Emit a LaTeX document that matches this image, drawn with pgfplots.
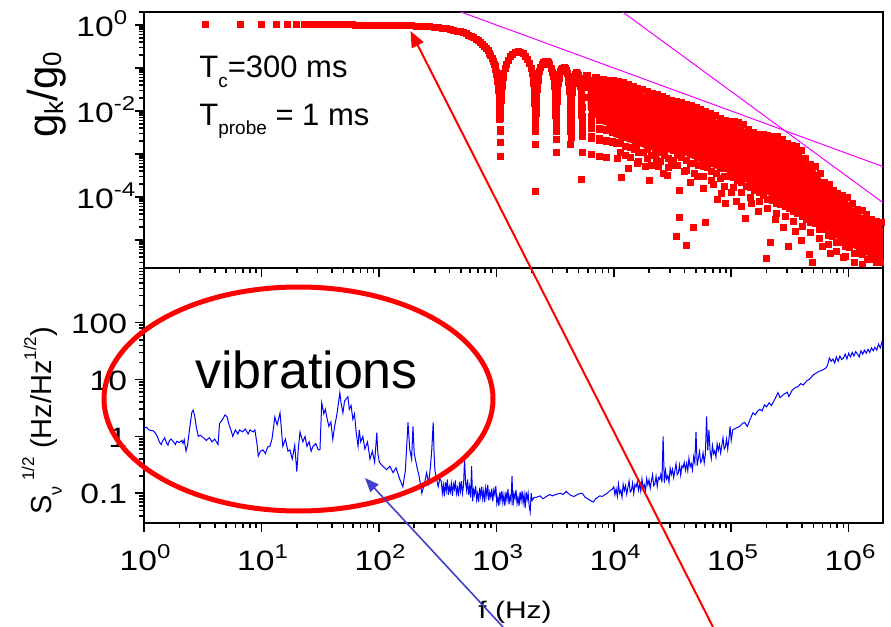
\documentclass[border=0pt]{standalone}
\usepackage{fontspec}
\setmainfont{Liberation Sans}
\usepackage{pgfplots}
\pgfplotsset{compat=1.18}
\usetikzlibrary{arrows.meta}
\definecolor{mag}{RGB}{240,0,255}
\definecolor{arrblue}{RGB}{64,64,200}
\newcommand{\tenp}[1]{\scalebox{1.2}[1]{10\raisebox{6pt}{\fontsize{10}{11}\selectfont #1}}}
\newcommand{\tk}[1]{\scalebox{1.2}[1]{#1}}
\begin{document}
\begin{tikzpicture}
\useasboundingbox (0,0) rectangle (445.5pt,-313.5pt);
% ---------------- top panel ----------------
\begin{axis}[scale only axis, width=369.5pt, height=128pt,
  at={(72pt,-6pt)}, anchor=north west,
  xmode=log, ymode=log, xmin=1, xmax=1.96e6, ymin=2.24e-6, ymax=2,
  axis line style={line width=1pt},
  tick style={black, line width=0.8pt},
  tick align=outside, tick pos=left,
  major tick length=4.5pt, minor tick length=2.5pt,
  xtick={1,10,100,1000,1e4,1e5,1e6},
  minor xtick={2,3,4,5,6,7,8,9,20,30,40,50,60,70,80,90,200,300,400,500,600,700,800,900,2000,3000,4000,5000,6000,7000,8000,9000,2e4,3e4,4e4,5e4,6e4,7e4,8e4,9e4,2e5,3e5,4e5,5e5,6e5,7e5,8e5,9e5},
  ytick={1e-5,1e-4,1e-3,1e-2,0.1,1},
  minor ytick={3e-6,4e-6,5e-6,6e-6,7e-6,8e-6,9e-6,2e-5,3e-5,4e-5,5e-5,6e-5,7e-5,8e-5,9e-5,2e-4,3e-4,4e-4,5e-4,6e-4,7e-4,8e-4,9e-4,2e-3,3e-3,4e-3,5e-3,6e-3,7e-3,8e-3,9e-3,0.02,0.03,0.04,0.05,0.06,0.07,0.08,0.09,0.2,0.3,0.4,0.5,0.6,0.7,0.8,0.9,2},
  xticklabels={}, yticklabels={}]
% dense core of the high-frequency cloud
\addplot[fill=red, draw=none] coordinates {
(6000,0.045)(7000,0.042)(8500,0.040)(10000,0.044)(12100,0.039)(14600,0.032)(17600,0.026)(21300,0.022)(25800,0.019)(31200,0.0153)(37700,0.0132)(45600,0.0112)(55200,0.0094)(66800,0.0075)(80800,0.0056)(89000,0.0051)(106000,0.0048)(127000,0.0041)(140000,0.0032)(154000,0.0027)(187000,0.0024)(226000,0.0022)(249000,0.0021)(274000,0.0019)(301000,0.0015)(360000,0.0013)(400000,0.001)(430000,0.00068)(470000,0.00049)(520000,0.00042)(570000,0.0003)(620000,0.00019)(680000,0.00017)(740000,0.00012)(890000,0.000093)(980000,0.00008)(1080000,0.00006)(1180000,0.000044)(1430000,0.000034)(1570000,0.000026)(1900000,0.000021)(2000000,0.000019)
(2000000,3e-6)(1400000,4.5e-6)(830000,1e-5)(440000,3.5e-5)(250000,8e-5)(160000,1.7e-4)(97000,3.5e-4)(62000,5.5e-4)(38000,0.001)(21000,0.0012)(10000,0.0025)(8500,0.005)(7000,0.007)(6000,0.011)};
% g_k/g_0 points
\addplot[only marks, mark=square*, mark size=1.5pt, red, mark options={draw=red, line width=0pt}] coordinates {
(3.333,1)(6.667,1)(10,1)(13.33,1)(16.67,1)(20,1)(23.33,1)(26.67,1)(30,1)(33.33,1)(36.67,1)(40,1)(43.33,1)(46.67,1)(50,1)(53.33,1)(56.67,1)(60,1)(63.33,0.99)(66.67,0.99)(70,0.99)(73.33,0.99)(76.67,0.99)(80,0.99)(83.33,0.99)(86.67,0.99)(90,0.99)(93.33,0.99)(96.67,0.99)(100,0.986)
(110,0.983)(120,0.980)(132,0.9755)(145,0.9706)(158,0.9652)(174,0.958)(190,0.9503)(208,0.940)(228,0.9284)(250,0.9142)(272,0.899)(296,0.881)(322,0.860)(348,0.838)(376,0.812)(405,0.784)(435,0.754)(465,0.722)(495,0.6886)(525,0.6541)(555,0.6188)(585,0.5826)(615,0.5457)(645,0.5084)(675,0.4705)(705,0.4325)(735,0.3943)(765,0.3565)(795,0.3187)(825,0.2815)(850,0.251)(875,0.2203)(900,0.191)(920,0.1677)(940,0.145)(960,0.1225)(975,0.1059)(990,0.0899)(1000,0.0793)(1010,0.0687)(1020,0.0583)(1030,0.0484)(1040,0.0384)(1048,0.0305)(1055,0.0237)(1061,0.0179)(1066,0.0131)(1070,0.00935)(1073,0.0065)(1076,0.0037)(1078,0.00185)
(1080.9,0.000879)(1083.2,0.00329)(1086.5,0.00656)(1089.7,0.00981)(1093,0.01304)(1097.3,0.01731)(1102.7,0.02261)(1109.2,0.02888)(1117.8,0.03711)(1128.6,0.04721)(1142.6,0.05993)(1161,0.07602)(1188,0.09836)(1220.4,0.1230)(1263.6,0.1523)(1317.6,0.1829)(1382.4,0.2108)(1458,0.2311)(1533.6,0.2388)(1620,0.2334)(1706.4,0.2146)(1782,0.1891)(1857.6,0.1568)(1922.4,0.1254)(1976.4,0.09739)(2019.6,0.07435)(2052,0.05694)(2079,0.04245)(2097.4,0.03265)(2111.4,0.02523)(2122.2,0.01955)(2130.8,0.01503)(2137.3,0.01166)(2142.7,0.008866)(2147,0.006638)(2150.3,0.004972)(2153.5,0.00331)(2156.8,0.001652)
(2160.3,0.000137)(2163.2,0.001648)(2166.5,0.00329)(2169.7,0.004927)(2173,0.006559)(2177.3,0.008726)(2182.7,0.01142)(2189.2,0.01463)(2197.8,0.01887)(2208.6,0.02412)(2222.6,0.03081)(2241,0.03938)(2268,0.05152)(2300.4,0.06528)(2343.6,0.08213)(2397.6,0.1005)(2462.4,0.1183)(2538,0.1328)(2613.6,0.1401)(2700,0.1401)(2786.4,0.1315)(2862,0.1177)(2937.6,0.09918)(3002.4,0.08028)(3056.4,0.06298)(3099.6,0.04845)(3132,0.03731)(3159,0.02794)(3177.4,0.02155)(3191.4,0.01670)(3202.2,0.01295)(3210.8,0.00998)(3217.3,0.00775)(3222.7,0.005895)(3227,0.004417)(3230.3,0.00331)(3233.5,0.002204)(3236.8,0.001101)
(3246.5,0.002196)(3249.7,0.00329)(3253,0.004381)(3257.3,0.005833)(3262.7,0.007641)(3269.2,0.0098)(3277.8,0.01266)(3288.6,0.0162)(3302.6,0.02074)(3321,0.02658)(3348,0.0349)(3380.4,0.04442)(3423.6,0.05622)(3477.6,0.06931)(3542.4,0.08225)(3618,0.09313)(3693.6,0.09917)(3780,0.1000)(3866.4,0.09473)(3942,0.08547)(4017.6,0.07252)(4082.4,0.05904)(4136.4,0.04653)(4179.6,0.03593)(4212,0.02774)(4239,0.02082)(4257.4,0.01609)(4271.4,0.01247)(4282.2,0.00969)(4290.8,0.007466)(4297.3,0.005802)(4302.7,0.004415)(4307,0.003309)(4313.5,0.001653)
(4329.7,0.002469)(4333,0.003289)(4337.3,0.00438)(4342.7,0.005741)(4349.2,0.007366)(4357.8,0.00952)(4368.6,0.0122)(4382.6,0.01563)(4401,0.02005)(4428,0.02639)(4460.4,0.03367)(4503.6,0.04274)(4557.6,0.05289)(4622.4,0.06303)(4698,0.07172)(4773.6,0.07673)(4860,0.07781)(4946.4,0.07405)(5022,0.06709)(5097.6,0.05716)(5162.4,0.04669)(5216.4,0.0369)(5259.6,0.02855)(5292,0.02208)(5319,0.01659)(5337.4,0.01283)(5351.4,0.009957)(5362.2,0.007736)(5370.8,0.005965)(5377.3,0.004636)(5382.7,0.003529)
(5405,0.00107)(5413,0.00256)(5423,0.00448)(5438,0.00746)(5463,0.0123)(5508,0.0210)(5584,0.0346)(5702,0.0524)(5854,0.0659)(6026,0.0659)(6178,0.0524)(6296,0.0346)(6372,0.0210)(6417,0.0123)(6442,0.00746)(6457,0.00448)(6467,0.00256)
(6485,0.00096)(6493,0.0023)(6503,0.00402)(6518,0.00669)(6543,0.01105)(6588,0.01885)(6664,0.03105)(6782,0.0470)(6934,0.0591)(7106,0.0591)(7258,0.0470)(7376,0.03105)(7452,0.01885)(7497,0.01105)(7522,0.00669)(7537,0.00402)(7547,0.0023)
(7565,0.00088)(7573,0.00211)(7583,0.00369)(7598,0.00614)(7623,0.01014)(7668,0.0173)(7744,0.0285)(7862,0.0431)(8014,0.0542)(8186,0.0542)(8338,0.0431)(8456,0.0285)(8532,0.0173)(8577,0.01014)(8602,0.00614)(8617,0.00369)(8627,0.00211)
(8645,0.00082)(8653,0.00196)(8663,0.00343)(8678,0.0057)(8703,0.00942)(8748,0.0161)(8824,0.0265)(8942,0.0401)(9094,0.0504)(9266,0.0504)(9418,0.0401)(9536,0.0265)(9612,0.0161)(9657,0.00942)(9682,0.0057)(9697,0.00343)(9707,0.00196)
(9733,0.00185)(9743,0.00323)(9758,0.00538)(9783,0.00887)(9828,0.01514)(9904,0.02494)(10022,0.0378)(10174,0.0475)(10346,0.0475)(10498,0.0378)(10616,0.02494)(10692,0.01514)(10737,0.00887)(10762,0.00538)(10777,0.00323)(10787,0.00185)
(10000,0.052)(11000,0.049)(12100,0.046)(13300,0.042)(14600,0.038)(16000,0.034)(17600,0.031)(19400,0.028)(21300,0.026)(23400,0.024)(25800,0.022)(28300,0.020)(31200,0.018)(34300,0.0168)(37700,0.0155)(41500,0.0143)(45600,0.0132)(50200,0.0122)(55200,0.0110)(60700,0.0098)(66800,0.0088)(73500,0.0078)(80800,0.0066)(85000,0.0058)(89000,0.0060)(97000,0.0058)(106000,0.0056)(116000,0.0053)(127000,0.0048)(140000,0.0038)(154000,0.0032)(170000,0.0029)(187000,0.0028)(205000,0.0027)(226000,0.0026)(249000,0.0025)(274000,0.0022)(301000,0.0018)(330000,0.0016)(360000,0.0015)(400000,0.0012)(430000,0.0008)(470000,0.00058)(520000,0.00050)(570000,0.00035)(620000,0.00022)(680000,0.00020)(740000,0.00014)(810000,0.00012)(890000,0.00011)(980000,0.000095)(1080000,0.00007)(1180000,0.000052)(1300000,0.000048)(1430000,0.000040)(1570000,0.000030)(1730000,0.000027)(1900000,0.000025)(2000000,0.000022)
(10500,0.0030)(11500,0.0018)(12600,0.0025)(13800,0.0014)(15000,0.0022)(16300,0.0011)(17800,0.0019)(19500,0.0013)(21000,0.0009)(22800,0.0016)(24800,0.0011)(27000,0.0015)(29400,0.0008)(32000,0.0012)(34800,0.0009)(37900,0.0014)(41200,0.0007)(44900,0.0010)(48800,0.0006)(53100,0.0009)(57800,0.0005)(62900,0.0008)(68400,0.0004)(74400,0.0006)(81000,0.00045)(88100,0.0003)(95900,0.0005)(104000,0.00028)(113000,0.00040)(123000,0.00022)(134000,0.00030)(146000,0.00017)(159000,0.00024)(173000,0.00013)(188000,0.00018)(205000,0.00009)(223000,0.00014)(243000,0.00007)(264000,0.00011)(287000,0.00006)(313000,0.00009)(340000,0.000045)(370000,0.00007)(403000,0.000035)(438000,0.00005)(477000,0.000025)(519000,0.00004)(565000,0.000018)(615000,0.00003)(669000,0.000013)(728000,0.00002)(793000,0.000009)(863000,0.000015)(939000,0.000007)(1020000,0.000011)(1110000,0.000005)(1210000,0.000008)(1320000,0.0000045)(1440000,0.000006)(1570000,0.0000035)(1710000,0.000005)(1860000,0.000003)(1980000,0.0000045)
(10500,0.0018)(11500,0.0011)(12600,0.0015)(13800,0.00084)(15000,0.0013)(16300,0.00066)(17800,0.0011)(19500,0.00078)(21000,0.00054)(22800,0.00096)(24800,0.00066)(27000,0.0009)(29400,0.00048)(32000,0.00072)(34800,0.00054)(37900,0.00084)(41200,0.00042)(44900,0.0006)(48800,0.00036)(53100,0.00054)(57800,0.0003)(62900,0.00048)(68400,0.00024)(74400,0.00036)(81000,0.00027)(88100,0.00018)(95900,0.0003)(104000,0.00017)(113000,0.00024)(123000,0.00013)(134000,0.00018)(146000,0.0001)(159000,0.00014)(173000,0.000078)(188000,0.00011)(205000,0.000054)(223000,0.000084)(243000,0.000042)(264000,0.000066)(287000,0.000036)(313000,0.000054)(340000,0.000027)(370000,0.000042)(403000,0.000021)(438000,0.00003)(477000,0.000015)(519000,0.000024)(565000,0.000011)(615000,0.000018)(669000,0.0000078)(728000,0.000012)(793000,0.0000054)(863000,0.000009)(939000,0.0000042)(1020000,0.0000066)(1110000,0.000003)(1210000,0.0000048)(1320000,0.0000027)(1440000,0.0000036)(1570000,0.0000021)(1710000,0.000003)(1860000,0.0000018)(1980000,0.0000027)
(5345,2.6e-4)(10800,7.7e-4)(11700,2.8e-4)(13300,4.5e-4)(16000,6e-4)(20200,2.4e-4)(24000,5e-4)(28800,3.2e-4)(34400,1.2e-5)(36500,1.45e-4)(36500,3.4e-5)(41900,7.6e-6)(48000,2e-5)(60400,2.6e-5)(83000,1.2e-4)(90000,6.9e-5)(123000,5.9e-5)(131000,3.2e-5)(215000,8.9e-6)(198000,3.8e-6)(305000,6.9e-6)(460000,4.5e-6)(495000,3e-6)
(12500,9e-4)(15500,1.4e-3)(18500,5e-4)(23000,7e-4)(26500,3.5e-4)(31000,5.5e-4)(40000,4e-4)(45000,2.2e-4)(52000,3e-4)(58000,1.6e-4)(70000,2e-4)(77000,9e-5)(100000,1.3e-4)(110000,8e-5)(150000,7e-5)(170000,4.5e-5)(240000,3e-5)(280000,2e-5)(350000,1.6e-5)(400000,1e-5)(600000,7e-6)(700000,5e-6)(900000,4e-6)
};
\addplot[mag, line width=0.5pt] coordinates {(400,2.5)(2e6,5e-4)};
\addplot[mag, line width=0.5pt] coordinates {(1e4,2.84)(2e6,7.1e-5)};
\end{axis}
% ---------------- bottom panel ----------------
\begin{axis}[scale only axis, width=369.5pt, height=127.5pt,
  at={(72pt,-134pt)}, anchor=north west,
  xmode=log, ymode=log, xmin=1, xmax=1.96e6, ymin=0.03, ymax=916,
  axis line style={line width=1pt},
  tick style={black, line width=0.8pt},
  tick align=outside, tick pos=left,
  major tick length=4.5pt, minor tick length=2.5pt,
  xtick={1,10,100,1000,1e4,1e5,1e6},
  minor xtick={2,3,4,5,6,7,8,9,20,30,40,50,60,70,80,90,200,300,400,500,600,700,800,900,2000,3000,4000,5000,6000,7000,8000,9000,2e4,3e4,4e4,5e4,6e4,7e4,8e4,9e4,2e5,3e5,4e5,5e5,6e5,7e5,8e5,9e5},
  ytick={0.1,1,10,100},
  minor ytick={0.04,0.05,0.06,0.07,0.08,0.09,0.2,0.3,0.4,0.5,0.6,0.7,0.8,0.9,2,3,4,5,6,7,8,9,20,30,40,50,60,70,80,90,200,300,400,500,600,700,800,900},
  xticklabels={}, yticklabels={}]
\addplot[blue, line width=0.5pt] coordinates {
(1.0,1.4)(1.05,1.45)(1.1,1.3)(1.2,1.25)(1.24,1.17)(1.3,1.0)(1.35,0.8)(1.4,0.72)(1.45,0.85)(1.5,0.95)(1.55,0.78)(1.6,0.7)(1.65,0.85)(1.7,0.9)(1.8,0.78)(1.85,0.72)(1.9,0.82)(2.0,0.78)(2.1,0.85)(2.15,0.75)(2.2,0.88)(2.28,0.55)(2.35,0.7)(2.45,1.4)(2.55,2.6)(2.62,2.9)(2.7,2.3)(2.8,1.4)(2.9,1.0)(3.0,1.05)(3.2,0.95)(3.4,0.85)(3.6,0.95)(3.8,0.8)(4.0,0.9)(4.27,0.72)(4.4,1.7)(4.6,1.9)(4.9,2.4)(5.1,2.2)(5.3,1.6)(5.5,1.3)(5.7,1.0)(6.0,1.3)(6.3,1.1)(6.5,1.3)(6.9,1.2)(7.3,1.35)(7.7,1.1)(8.0,1.3)(8.5,1.2)(8.8,1.3)(9.2,0.7)(9.4,0.45)(9.8,0.55)(10.3,0.58)(10.8,0.5)(11.3,0.65)(11.8,0.67)(12.3,0.9)(13,2.2)(13.6,1.6)(14.4,2.6)(15.2,0.67)(16,0.9)(16.8,0.55)(17.5,0.58)(18.3,0.4)(19.2,0.7)(20,0.24)(20.6,0.6)(21.3,1.2)(22.5,0.8)(23.5,1.0)(24.4,0.67)(25.5,0.8)(26.5,0.55)(27.5,0.67)(29,0.75)(30.5,0.58)(31.5,0.58)(32.6,3.9)(34,2.5)(35,3.0)(36,2.2)(37.5,1.5)(39,1.8)(40.5,0.89)(42,1.5)(44,2.5)(46.5,5.9)(47.5,4.0)(49.4,2.6)(51,4.2)(54.5,5.0)(56,3.0)(58,3.5)(60,2.0)(62,2.5)(64,1.2)(66.5,0.67)(68,1.3)(70,0.8)(73,1.0)(76,0.6)(80,0.8)(84,0.4)(88,0.55)(92,0.35)(96,1.17)(98,0.5)(101,0.35)(108,0.3)(116,0.26)(124,0.3)(132,0.23)(140,0.28)(150,0.18)(160,0.13)(168,0.25)(177,1.76)(183,0.6)(190,0.4)(195,1.5)(200,0.5)(210,0.3)(220,0.2)(232,0.1)(245,0.15)(255,0.23)(265,0.15)(275,0.3)(282,0.58)(290,1.76)(295,0.5)(300,0.25)(310,0.18)(320,0.13)(330,0.18)
(340,0.163)(347,0.1)(354,0.138)(361,0.088)(368,0.156)(375,0.113)(383,0.175)(390,0.094)(398,0.131)(406,0.106)(414,0.15)(423,0.09)(431,0.144)(440,0.119)(448,0.169)(457,0.098)(467,0.125)(476,0.088)(486,0.156)(495,0.11)(505,0.163)(515,0.1)(526,0.138)(536,0.4)(547,0.156)(558,0.113)(569,0.175)(580,0.094)(592,0.131)(604,0.085)(616,0.3)(628,0.072)(641,0.115)(653,0.095)(666,0.135)(680,0.078)(693,0.1)(707,0.07)(721,0.125)(736,0.088)(751,0.13)(766,0.08)(781,0.11)(796,0.07)(812,0.125)(829,0.09)(845,0.14)(862,0.075)(879,0.105)(897,0.085)(915,0.12)(933,0.072)(952,0.115)(971,0.095)(990,0.135)(1010,0.066)(1030,0.085)(1051,0.06)(1072,0.106)(1093,0.075)(1115,0.11)(1137,0.068)(1160,0.094)(1183,0.06)(1207,0.106)(1231,0.077)(1256,0.119)(1281,0.064)(1307,0.089)(1333,0.072)(1360,0.2)(1387,0.061)(1414,0.098)(1443,0.081)(1471,0.115)(1501,0.066)(1531,0.085)(1562,0.06)(1593,0.106)(1625,0.075)(1657,0.11)(1690,0.068)(1724,0.094)(1759,0.055)(1794,0.106)(1830,0.077)(1866,0.1)(1904,0.06)(1942,0.047)(1981,0.1)(2020,0.075)
(2100,0.085)(2200,0.085)(2350,0.09)(2500,0.08)(2670,0.088)(2850,0.095)(3000,0.09)(3250,0.096)(3500,0.1)(3700,0.095)(3940,0.108)(4200,0.095)(4400,0.09)(4600,0.088)(4900,0.095)(5200,0.1)(5400,0.1)(5700,0.085)(6000,0.08)(6300,0.075)(6700,0.07)(7000,0.08)(7300,0.085)(7600,0.09)(8000,0.088)(8400,0.095)(8800,0.1)(9200,0.11)(9700,0.118)
(10000,0.13)(10230,0.094)(10470,0.12)(10720,0.088)(10960,0.146)(11220,0.1)(11480,0.113)(11750,0.085)(12020,0.144)(12300,0.111)(12590,0.136)(12880,0.096)(13180,0.127)(13490,0.165)(13800,0.105)(14130,0.112)(14450,0.151)(14790,0.099)(15140,0.142)(15490,0.13)(15850,0.157)(16220,0.113)(16600,0.147)(16980,0.109)(17380,0.178)(17780,0.125)(18200,0.141)(18620,0.107)(19050,0.181)(19500,0.14)(19950,0.172)(20420,0.122)(20890,0.163)(21380,0.212)(21880,0.136)(22390,0.147)(22910,0.199)(23440,0.132)(23990,0.189)(24550,0.175)(25120,0.214)(25700,0.155)(26300,1.0)(26920,0.152)(27540,0.252)(28180,0.178)(28840,0.203)(29510,0.156)(30200,0.275)(30900,0.214)(31620,0.265)(32360,0.188)(33110,0.252)(33880,0.331)(34670,0.213)(35480,0.23)(36310,0.314)(37150,0.209)(38020,0.302)(38900,0.282)(39810,0.348)(40740,0.255)(41690,0.336)(42660,0.248)(43650,0.413)(44670,0.293)(45710,0.333)(46770,0.255)(47860,0.438)(48980,0.342)(50120,1.2)(51290,0.308)(52480,0.41)(53700,0.54)(54950,0.349)(56230,0.378)(57540,0.516)(58880,0.343)(60260,0.5)(61660,2.25)(63100,0.57)(64570,1.3)(66070,0.55)(67610,0.408)(69180,0.689)(70790,0.495)(72440,0.56)(74130,0.431)(75860,0.738)(77620,0.57)(79430,0.713)(81280,0.512)(83180,0.693)(85110,0.945)(87100,0.6)(89130,0.657)(91200,0.9)(93330,0.6)(95500,0.88)(97720,1.5)(100000,0.85)
(103000,1.3)(110000,1.4)(118000,1.5)(125000,1.7)(130000,1.76)(137000,1.5)(145000,2.0)(153000,2.6)(160000,2.4)(168000,2.8)(175000,3.0)(183000,2.8)(192000,3.6)(200000,3.3)(210000,3.9)(220000,3.5)(235000,4.5)(250000,5.9)(260000,4.8)(280000,5.5)(300000,6.0)(310000,5.0)(330000,6.5)(350000,7.2)(370000,7.5)(390000,8.5)(410000,8.0)(440000,9.5)(460000,10.0)(490000,11.5)(510000,12.5)(530000,13)(560000,14)(590000,14.5)(610000,15)
(640000,16)(662000,18)(685000,24)(709000,21)(734000,23)(760000,19.5)(786000,25)(814000,21)(842000,26)(872000,22.5)(902000,24)(934000,28)(966000,23)(1000000,29)(1035000,25)(1071000,30)(1109000,26)(1148000,31)(1188000,28)(1229000,25)(1272000,32)(1317000,28)(1363000,33)(1411000,29)(1460000,34)(1511000,30)(1564000,36)(1619000,32)(1675000,37)(1734000,33)(1795000,42)(1857000,36)(1922000,46)(1960000,40)
};
\end{axis}
% ---------------- labels and annotations (pixel coordinates) ----------------
\begin{scope}[x=0.5pt,y=-0.5pt]
\begin{scope}[every node/.style={inner sep=0, font=\fontsize{14}{16}\selectfont}]
\node[anchor=base west] at (76,36) {\tenp{0}};
\node[anchor=base west] at (76,122) {\tenp{-2}};
\node[anchor=base west] at (76,208) {\tenp{-4}};
\node[anchor=base east] at (127.5,333) {\tk{100}};
\node[anchor=base east] at (127.5,390.5) {\tk{10}};
\node[anchor=base east] at (127.5,447.5) {\tk{1}};
\node[anchor=base east] at (127.5,503.5) {\tk{0.1}};
\node[anchor=base] at (145,570) {\tenp{0}};
\node[anchor=base] at (262.5,570) {\tenp{1}};
\node[anchor=base] at (380,570) {\tenp{2}};
\node[anchor=base] at (497.5,570) {\tenp{3}};
\node[anchor=base] at (615,570) {\tenp{4}};
\node[anchor=base] at (732.5,570) {\tenp{5}};
\node[anchor=base] at (850,570) {\tenp{6}};
\end{scope}
\node[rotate=90, anchor=base, inner sep=0, font=\fontsize{21}{24}\selectfont] at (57,95) {g\raisebox{-3pt}{\fontsize{13}{14}\selectfont k}/g\raisebox{-2pt}{\fontsize{13}{14}\selectfont 0}};
\node[rotate=90, anchor=base, inner sep=0, font=\fontsize{14.5}{17}\selectfont] at (52,421) {S\raisebox{-5pt}{\fontsize{9}{10}\selectfont ν}\hspace{3pt}\raisebox{9pt}{\fontsize{8.5}{10}\selectfont 1/2}\ (Hz/Hz\raisebox{8pt}{\fontsize{8.5}{10}\selectfont 1/2})};
\node[anchor=base west, inner sep=0, font=\fontsize{15.5}{18}\selectfont] at (199,77) {T\raisebox{-5pt}{\fontsize{9.5}{10}\selectfont c}=300 ms};
\node[anchor=base west, inner sep=0, font=\fontsize{15.5}{18}\selectfont] at (199,125) {T\raisebox{-4.5pt}{\fontsize{9.5}{10}\selectfont probe} = 1 ms};
\node[anchor=base west, inner sep=0, font=\fontsize{12}{14}\selectfont] at (478,618) {\scalebox{1.25}[1]{f (Hz)}};
\draw[red, line width=2.5pt] (298.5,399) ellipse [x radius=97.25pt, y radius=56pt];
\node[anchor=base west, inner sep=0, font=\fontsize{26}{30}\selectfont] at (195,388) {vibrations};
\draw[red, line width=1pt, -{Triangle[length=8pt,width=6.5pt]}] (713,627) -- (410.5,31);
\draw[arrblue, line width=0.8pt, -{Triangle[length=7pt,width=5.5pt]}] (503,627) -- (365,478);
\end{scope}
\end{tikzpicture}
\end{document}
